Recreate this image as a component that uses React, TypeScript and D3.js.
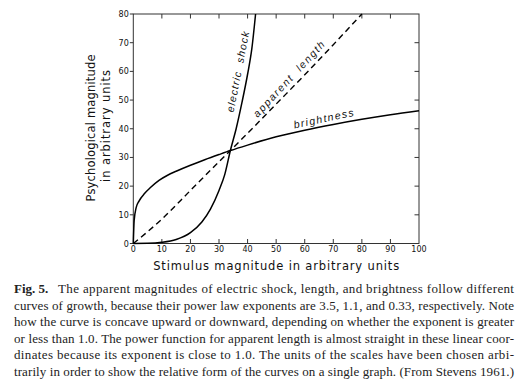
import React from "react";
import * as d3 from "d3";

// ---------- data ----------
const xTicks = [0, 10, 20, 30, 40, 50, 60, 70, 80, 90, 100];
const yTicks = [0, 10, 20, 30, 40, 50, 60, 70, 80];

const shockX = [0, 5, 10, 15, 20, 24, 27, 30, 32, 34, 36, 38, 40, 41.5, 42.8];
const shockY = [0, 0.05, 0.4, 1.4, 3.8, 7.5, 12, 18.5, 24, 32.5, 40, 49, 59, 68, 80];

const lengthX = [0, 10, 20, 30, 40, 50, 60, 70, 80];
const lengthY = [0, 8.5, 18.5, 28.5, 38.4, 48.6, 58.8, 69.3, 80];

const brightX = [0, 0.3, 1, 2, 4, 6, 9, 12, 15, 20, 25, 30, 34, 40, 50, 60, 70, 80, 90, 100];
const brightY = [0, 8, 12.5, 14.8, 17.5, 19.5, 22, 23.8, 25.2, 27.3, 29.2, 31, 32.4, 34.3, 37.2, 39.5, 41.5, 43.3, 44.9, 46.3];

const xTitle = "Stimulus magnitude in arbitrary units";
const yTitle1 = "Psychological magnitude";
const yTitle2 = "in arbitrary units";

const captionBold = "Fig. 5.";
const captionLines = [
  "The apparent magnitudes of electric shock, length, and brightness follow different",
  "curves of growth, because their power law exponents are 3.5, 1.1, and 0.33, respectively. Note",
  "how the curve is concave upward or downward, depending on whether the exponent is greater",
  "or less than 1.0. The power function for apparent length is almost straight in these linear coor-",
  "dinates because its exponent is close to 1.0. The units of the scales have been chosen arbi-",
  "trarily in order to show the relative form of the curves on a single graph. (From Stevens 1961.)",
];

const zip = (xs: number[], ys: number[]) => xs.map((v, i) => [v, ys[i]] as [number, number]);

export default function App() {
  const W = 528;
  const H = 380;
  const L = 133.3, R = 419, T = 14, B = 243.5;
  const x = d3.scaleLinear().domain([0, 100]).range([L, R]);
  const y = d3.scaleLinear().domain([0, 80]).range([B, T]);
  const line = d3
    .line<[number, number]>()
    .x((d) => x(d[0]))
    .y((d) => y(d[1]))
    .curve(d3.curveMonotoneX);

  const tickFont = "DejaVu Sans, sans-serif";
  const titleFont = "DejaVu Sans, sans-serif";
  const labelFont = "Liberation Sans, Arial, sans-serif";
  const capFont = "Liberation Serif, Times New Roman, serif";
  const ink = "#111";

  const capX0 = 14, capX1 = 514, capY0 = 293, capDy = 16.6;

  return (
    <svg
      width={W}
      height={H}
      viewBox={`0 0 ${W} ${H}`}
      style={{ position: "absolute", left: 0, top: 0, background: "#fff" }}
    >
      <rect x={0} y={0} width={W} height={H} fill="#fff" />
      {/* frame */}
      <rect x={L} y={T} width={R - L} height={B - T} fill="none" stroke="#333" strokeWidth={1} />

      {/* bottom ticks (inward) + labels */}
      {xTicks.map((t) => (
        <g key={"xt" + t}>
          {t > 0 && t < 100 && (
            <>
              <line x1={x(t)} x2={x(t)} y1={B} y2={B - 4.5} stroke="#333" strokeWidth={1} />
              <line x1={x(t)} x2={x(t)} y1={T} y2={T + 4.5} stroke="#333" strokeWidth={1} />
            </>
          )}
          <text
            x={x(t)}
            y={B + 8.5}
            fontSize={8}
            fontFamily={tickFont}
            textAnchor="middle"
            fill={ink}
          >
            {t}
          </text>
        </g>
      ))}

      {/* left ticks (outward) + labels, right ticks (inward) */}
      {yTicks.map((t) => (
        <g key={"yt" + t}>
          <line x1={L} x2={L - 3.5} y1={y(t)} y2={y(t)} stroke="#333" strokeWidth={1} />
          {t > 0 && t < 80 && (
            <line x1={R} x2={R - 4.5} y1={y(t)} y2={y(t)} stroke="#333" strokeWidth={1} />
          )}
          <text
            x={L - 4.5}
            y={y(t) + 3}
            fontSize={8}
            fontFamily={tickFont}
            textAnchor="end"
            fill={ink}
          >
            {t}
          </text>
        </g>
      ))}

      {/* curves */}
      <path d={line(zip(brightX, brightY)) || ""} fill="none" stroke="#000" strokeWidth={1.5} />
      <path
        d={line(zip(lengthX, lengthY)) || ""}
        fill="none"
        stroke="#000"
        strokeWidth={1.4}
        strokeDasharray="6,4"
      />
      <path d={line(zip(shockX, shockY)) || ""} fill="none" stroke="#000" strokeWidth={1.5} />

      {/* curve labels */}
      <text
        transform={`translate(241.5,72) rotate(-79)`}
        fontSize={10.5}
        fontStyle="italic"
        fontFamily={labelFont}
        textAnchor="middle"
        letterSpacing={1.1}
        wordSpacing={4}
        fill={ink}
      >
        electric shock
      </text>
      <text
        transform={`translate(292,81) rotate(-47)`}
        fontSize={10.5}
        fontStyle="italic"
        fontFamily={labelFont}
        textAnchor="middle"
        letterSpacing={1.6}
        wordSpacing={4}
        fill={ink}
      >
        apparent length
      </text>
      <text
        transform={`translate(325,122) rotate(-12)`}
        fontSize={10.5}
        fontStyle="italic"
        fontFamily={labelFont}
        textAnchor="middle"
        letterSpacing={1.4}
        fill={ink}
      >
        brightness
      </text>

      {/* axis titles */}
      <text
        x={(L + R) / 2}
        y={270}
        fontSize={11.5}
        fontFamily={titleFont}
        textAnchor="middle"
        textLength={246}
        lengthAdjust="spacing"
        fill={ink}
      >
        {xTitle}
      </text>
      <text
        transform={`translate(95,128) rotate(-90)`}
        fontSize={11.5}
        fontFamily={titleFont}
        textAnchor="middle"
        textLength={147}
        lengthAdjust="spacing"
        fill={ink}
      >
        {yTitle1}
      </text>
      <text
        transform={`translate(110,126) rotate(-90)`}
        fontSize={11.5}
        fontFamily={titleFont}
        textAnchor="middle"
        textLength={112}
        lengthAdjust="spacing"
        fill={ink}
      >
        {yTitle2}
      </text>

      {/* caption */}
      <text x={capX0} y={capY0} fontSize={13} fontWeight="bold" fontFamily={capFont} fill="#222">
        {captionBold}
      </text>
      {captionLines.map((s, i) => {
        const x0 = i === 0 ? 58 : capX0;
        return (
          <text
            key={"cap" + i}
            x={x0}
            y={capY0 + i * capDy}
            fontSize={13}
            fontFamily={capFont}
            textLength={capX1 - x0}
            lengthAdjust="spacing"
            fill="#222"
          >
            {s}
          </text>
        );
      })}
    </svg>
  );
}
